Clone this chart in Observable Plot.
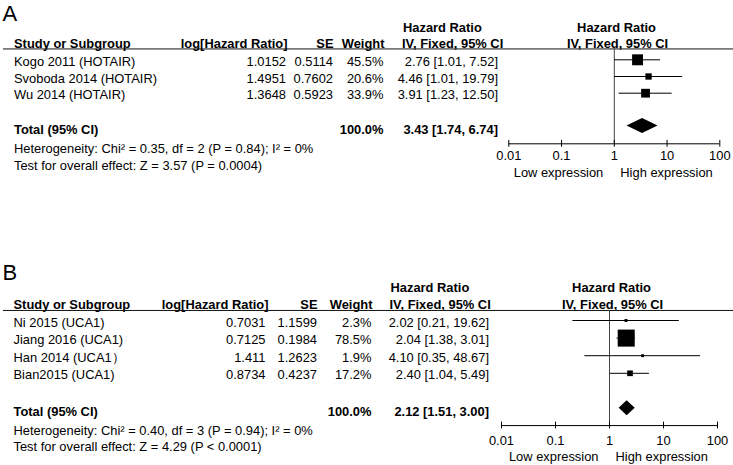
<!DOCTYPE html>
<html>
<head>
<meta charset="utf-8">
<script src="https://cdn.jsdelivr.net/npm/d3@7"></script>
<script src="https://cdn.jsdelivr.net/npm/@observablehq/plot@0.6"></script>
<style>
  html, body { margin: 0; padding: 0; background: #fff; }
  #chart { width: 733px; height: 465px; overflow: hidden; }
  #chart svg { display: block; }
</style>
</head>
<body>
<div id="chart"></div>
<script>
// ---------- shared labels ----------
const tickValues = [0.01, 0.1, 1, 10, 100];
const tickLabels = ["0.01", "0.1", "1", "10", "100"];
const favoursLabels = ["Low expression", "High expression"];
const headerTop = ["Hazard Ratio", "Hazard Ratio"];
const headerCols = ["Study or Subgroup", "log[Hazard Ratio]", "SE", "Weight", "IV, Fixed, 95% CI", "IV, Fixed, 95% CI"];
const totalLabel = "Total (95% CI)";

// ---------- panel A data ----------
const studiesA = ["Kogo 2011 (HOTAIR)", "Svoboda 2014 (HOTAIR)", "Wu 2014 (HOTAIR)"];
const logHrA = ["1.0152", "1.4951", "1.3648"];
const seA = ["0.5114", "0.7602", "0.5923"];
const weightA = [45.5, 20.6, 33.9];
const hrA = [2.76, 4.46, 3.91];
const lowA = [1.01, 1.01, 1.23];
const highA = [7.52, 19.79, 12.50];
const totalA = [3.43, 1.74, 6.74];      // HR, lower, upper
const totalWeightA = 100.0;
const hetA = "Heterogeneity: Chi\u00B2 = 0.35, df = 2 (P = 0.84); I\u00B2 = 0%";
const testA = "Test for overall effect: Z = 3.57 (P = 0.0004)";

// ---------- panel B data ----------
const studiesB = ["Ni 2015 (UCA1)", "Jiang 2016 (UCA1)", "Han 2014 (UCA1\uFF09", "Bian2015 (UCA1)"];
const logHrB = ["0.7031", "0.7125", "1.411", "0.8734"];
const seB = ["1.1599", "0.1984", "1.2623", "0.4237"];
const weightB = [2.3, 78.5, 1.9, 17.2];
const hrB = [2.02, 2.04, 4.10, 2.40];
const lowB = [0.21, 1.38, 0.35, 1.04];
const highB = [19.62, 3.01, 48.67, 5.49];
const totalB = [2.12, 1.51, 3.00];
const totalWeightB = 100.0;
const hetB = "Heterogeneity: Chi\u00B2 = 0.40, df = 3 (P = 0.94); I\u00B2 = 0%";
const testB = "Test for overall effect: Z = 4.29 (P < 0.0001)";

// ---------- layout (pixels / row units) ----------
const layoutA = {
  height: 261, xRange: [508.3, 719.3], y0: 59.3, pitch: 16.7, letterTop: 5, letterX: 2,
  hdr1: -1.93, hdr2: -0.96, line: -0.65, tot: 0.96, het: 2.33, test: 3.37, axis: 2.03, tick: 2.77, expr: 3.77,
  cols: { study: 13.5, lhrH: 287, lhr: 285.5, seH: 333, se: 332.5, wH: 384, w: 383, ciH: 401.5, ci: 497.5, fp: 616 }
};
const layoutB = {
  height: 204, xRange: [501, 717], y0: 59, pitch: 17.6, letterTop: 3, letterX: 2,
  hdr1: -1.875, hdr2: -0.91, line: -0.57, tot: 0.98, het: 2.25, test: 3.2, axis: 1.97, tick: 2.85, expr: 3.77,
  cols: { study: 13, lhrH: 268, lhr: 265, seH: 317, se: 316.5, wH: 372, w: 371, ciH: 389, ci: 488.5, fp: 611 }
};

const fmtCI = (h, l, u) => `${h.toFixed(2)} [${l.toFixed(2)}, ${u.toFixed(2)}]`;

function panel(letter, d, L) {
  const n = d.studies.length;
  const rows = d.studies.map((s, i) => ({
    i, s, lhr: d.logHr[i], se: d.se[i], w: d.weight[i], hr: d.hr[i], lo: d.low[i], hi: d.high[i]
  }));
  const ML = 3;
  const C = L.cols;
  const col = (data, y, text, xpx, anchor, extra = {}) =>
    Plot.text(data, { frameAnchor: "left", y, text, dx: xpx - ML, textAnchor: anchor, ...extra });
  const one = [0];
  const yT = n + L.tot;
  const yAxis = n + L.axis;
  const hh = 7.5 / L.pitch;
  const tk = 3.4 / L.pitch;
  const diamond = [
    { x: d.total[1], y1: yT, y2: yT },
    { x: d.total[0], y1: yT - hh, y2: yT + hh },
    { x: d.total[2], y1: yT, y2: yT }
  ];
  const bold = { fontWeight: "bold" };

  return Plot.plot({
    width: 733,
    height: L.height,
    marginTop: 0, marginBottom: 0, marginLeft: ML, marginRight: 0,
    x: { type: "log", domain: [0.01, 100], range: L.xRange, axis: null },
    y: { type: "linear", domain: [0, 1], range: [L.y0, L.y0 + L.pitch], axis: null },
    r: { type: "linear", domain: [0, 100], range: [1.41, 11.85] },
    style: { fontFamily: "'Liberation Sans', Arial, sans-serif", fontSize: "12.9px", color: "#000", background: "#fff" },
    marks: [
      // panel letter
      Plot.text([letter], { frameAnchor: "top-left", text: t => t, dx: L.letterX - ML, dy: L.letterTop,
        lineAnchor: "top", textAnchor: "start", fontSize: 22 }),
      // header row 1
      col(one, () => L.hdr1, () => headerTop[0], C.ciH + 1, "start", bold),
      col(one, () => L.hdr1, () => headerTop[1], C.fp, "middle", bold),
      // header row 2
      col(one, () => L.hdr2, () => headerCols[0], C.study, "start", bold),
      col(one, () => L.hdr2, () => headerCols[1], C.lhrH, "end", bold),
      col(one, () => L.hdr2, () => headerCols[2], C.seH, "end", bold),
      col(one, () => L.hdr2, () => headerCols[3], C.wH, "end", bold),
      col(one, () => L.hdr2, () => headerCols[4], C.ciH, "start", bold),
      col(one, () => L.hdr2, () => headerCols[5], C.fp + 1, "middle", bold),
      // header rule
      Plot.ruleY([L.line], { stroke: "#111" }),
      // study rows
      col(rows, "i", "s", C.study, "start", { dy: 2 }),
      col(rows, "i", "lhr", C.lhr, "end", { dy: 2 }),
      col(rows, "i", "se", C.se, "end", { dy: 2 }),
      col(rows, "i", r => r.w.toFixed(1) + "%", C.w, "end", { dy: 2 }),
      col(rows, "i", r => fmtCI(r.hr, r.lo, r.hi), C.ci, "end", { dy: 2 }),
      // total row
      col(one, () => yT, () => totalLabel, C.study, "start", { ...bold, dy: 3.5 }),
      col(one, () => yT, () => d.totalWeight.toFixed(1) + "%", C.w, "end", { ...bold, dy: 3.5 }),
      col(one, () => yT, () => fmtCI(d.total[0], d.total[1], d.total[2]), C.ci, "end", { ...bold, dy: 3.5 }),
      col(one, () => n + L.het, () => d.het, C.study, "start"),
      col(one, () => n + L.test, () => d.test, C.study, "start"),
      // forest plot: line of no effect
      Plot.ruleX([1], { y1: L.line, y2: yAxis, stroke: "#444" }),
      // confidence intervals and weighted squares
      Plot.ruleY(rows, { y: "i", x1: "lo", x2: "hi", stroke: "#000" }),
      Plot.dot(rows, { x: "hr", y: "i", r: "w", symbol: "square", fill: "#000" }),
      // pooled diamond
      Plot.area(diamond, { x1: "x", y1: "y1", y2: "y2", fill: "#000" }),
      // axis
      Plot.ruleY([yAxis], { x1: tickValues[0], x2: tickValues[tickValues.length - 1], stroke: "#000" }),
      Plot.ruleX(tickValues, { y1: yAxis - tk, y2: yAxis + tk, stroke: "#000" }),
      Plot.text(tickValues, { x: v => v, y: () => n + L.tick, text: (v, i) => tickLabels[i] }),
      Plot.text([favoursLabels[0]], { x: () => 1, y: () => n + L.expr, text: t => t, textAnchor: "end", dx: -11 }),
      Plot.text([favoursLabels[1]], { x: () => 1, y: () => n + L.expr, text: t => t, textAnchor: "start", dx: 6 })
    ]
  });
}

const chart = document.getElementById("chart");
chart.appendChild(panel("A", {
  studies: studiesA, logHr: logHrA, se: seA, weight: weightA, hr: hrA, low: lowA, high: highA,
  total: totalA, totalWeight: totalWeightA, het: hetA, test: testA
}, layoutA));
chart.appendChild(panel("B", {
  studies: studiesB, logHr: logHrB, se: seB, weight: weightB, hr: hrB, low: lowB, high: highB,
  total: totalB, totalWeight: totalWeightB, het: hetB, test: testB
}, layoutB));
</script>
</body>
</html>
